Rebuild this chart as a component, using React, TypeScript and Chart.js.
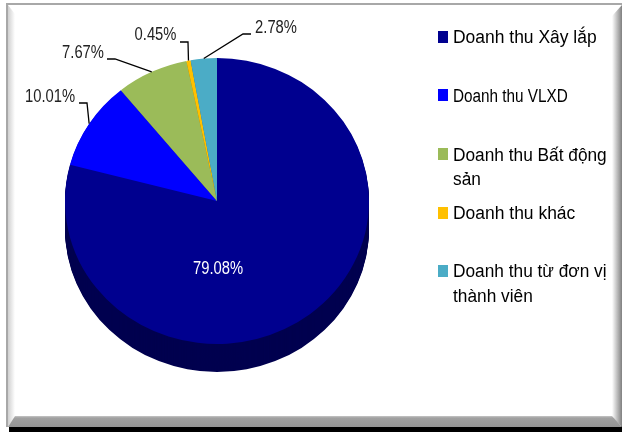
import React, { useEffect, useRef } from "react";
import { Chart, registerables } from "chart.js";

Chart.register(...registerables);

const categories = [
  "Doanh thu Xây lắp",
  "Doanh thu VLXD",
  "Doanh thu Bất động sản",
  "Doanh thu khác",
  "Doanh thu từ đơn vị thành viên",
];
const shares = [79.08, 10.01, 7.67, 0.45, 2.78];
const faceColors = ["#00008f", "#0000ff", "#9bbb59", "#ffc000", "#4bacc6"];
const sideColors = ["#00004f", "#00008f", "#5f7530", "#a07800", "#2a6c80"];
const shareLabels = ["79.08%", "10.01%", "7.67%", "0.45%", "2.78%"];

// Layout of the drawing (pixels), kept apart from the data.
const W = 622;
const H = 432;
const SQUASH = 143 / 152;
const DEPTH = 28;
const LABEL_NARROW = 0.82;
const labelSpots = [
  { x: 218, y: 269 },
  { x: 50, y: 97, lx: 79, ly: 103, kx: 87 },
  { x: 83, y: 53, lx: 107, ly: 59, kx: 115 },
  { x: 155.5, y: 35, lx: 180, ly: 42, kx: 188 },
  { x: 276, y: 28, lx: 251, ly: 34, kx: 243 },
];
const legendRows = [
  { swatch: 31, lines: [43], narrow: 0.97 },
  { swatch: 89, lines: [101.5], narrow: 0.85 },
  { swatch: 148, lines: [160.5, 185], narrow: 0.96 },
  { swatch: 207, lines: [218.5], narrow: 0.97 },
  { swatch: 265, lines: [277, 302], narrow: 0.96 },
];
const legendWrapWords = [0, 0, 4, 0, 5];

const framePlugin = {
  id: "frame",
  beforeDraw(chart: any) {
    const c = chart.ctx;
    c.save();
    c.fillStyle = "#fff";
    c.fillRect(0, 0, W, H);
    c.fillStyle = "#000";
    c.fillRect(9, 426, W - 9, 6);
    c.fillStyle = "#a8a8a8";
    c.fillRect(6, 3, W - 6, 2);
    c.fillRect(6, 3, 2, 424);
    let g = c.createLinearGradient(8, 0, 15, 0);
    g.addColorStop(0, "#d0d0d0");
    g.addColorStop(1, "#ffffff");
    c.fillStyle = g;
    c.beginPath();
    c.moveTo(8, 5);
    c.lineTo(15, 14);
    c.lineTo(15, 417);
    c.lineTo(8, 427);
    c.closePath();
    c.fill();
    g = c.createLinearGradient(612, 0, 622, 0);
    g.addColorStop(0, "#ffffff");
    g.addColorStop(1, "#808080");
    c.fillStyle = g;
    c.beginPath();
    c.moveTo(622, 5);
    c.lineTo(612, 16);
    c.lineTo(612, 417);
    c.lineTo(622, 427);
    c.closePath();
    c.fill();
    g = c.createLinearGradient(0, 415, 0, 427);
    g.addColorStop(0, "#d8d8d8");
    g.addColorStop(0.25, "#a0a0a0");
    g.addColorStop(1, "#949494");
    c.fillStyle = g;
    c.beginPath();
    c.moveTo(15, 416);
    c.lineTo(612, 416);
    c.lineTo(622, 427);
    c.lineTo(8, 427);
    c.closePath();
    c.fill();
    c.restore();
  },
};

const tiltPlugin = {
  id: "tilt",
  beforeDatasetsDraw(chart: any) {
    const c = chart.ctx;
    const arcs = chart.getDatasetMeta(0).data;
    const { x: cx, y: cy } = arcs[0];
    c.save();
    for (let d = DEPTH; d >= 1; d--) {
      arcs.forEach((a: any, i: number) => {
        const p = a.getProps(["startAngle", "endAngle", "outerRadius"], true);
        c.fillStyle = sideColors[i];
        c.beginPath();
        c.moveTo(cx, cy + d);
        c.ellipse(cx, cy + d, p.outerRadius, p.outerRadius * SQUASH, 0, p.startAngle, p.endAngle);
        c.closePath();
        c.fill();
      });
    }
    c.restore();
    c.save();
    c.translate(cx, cy);
    c.scale(1, SQUASH);
    c.translate(-cx, -cy);
  },
  afterDatasetsDraw(chart: any) {
    chart.ctx.restore();
  },
};

const labelPlugin = {
  id: "shareLabels",
  afterDraw(chart: any) {
    const c = chart.ctx;
    const arcs = chart.getDatasetMeta(0).data;
    c.save();
    c.font = '18px "Liberation Sans"';
    c.textAlign = "center";
    c.textBaseline = "middle";
    arcs.forEach((a: any, i: number) => {
      const spot: any = labelSpots[i];
      const p = a.getProps(["startAngle", "endAngle", "outerRadius"], true);
      if (spot.lx !== undefined) {
        const mid = (p.startAngle + p.endAngle) / 2;
        c.strokeStyle = "#000";
        c.lineWidth = 1.3;
        c.beginPath();
        c.moveTo(spot.lx, spot.ly);
        c.lineTo(spot.kx, spot.ly);
        c.lineTo(a.x + Math.cos(mid) * p.outerRadius, a.y + Math.sin(mid) * p.outerRadius * SQUASH);
        c.stroke();
      }
      c.fillStyle = i === 0 ? "#fff" : "#222";
      c.save();
      c.translate(spot.x, spot.y);
      c.scale(LABEL_NARROW, 1);
      c.fillText(shareLabels[i], 0, 0);
      c.restore();
    });
    c.restore();
  },
};

const legendPlugin = {
  id: "sideLegend",
  afterDraw(chart: any) {
    const c = chart.ctx;
    c.save();
    c.font = '18px "Liberation Sans"';
    c.textAlign = "left";
    c.textBaseline = "alphabetic";
    chart.data.labels.forEach((name: string, i: number) => {
      const row = legendRows[i];
      c.fillStyle = faceColors[i];
      c.fillRect(438, row.swatch, 10, 12);
      c.fillStyle = "#000";
      const words = name.split(" ");
      const parts = legendWrapWords[i]
        ? [words.slice(0, legendWrapWords[i]).join(" "), words.slice(legendWrapWords[i]).join(" ")]
        : [name];
      parts.forEach((t, k) => {
        c.save();
        c.translate(453, row.lines[k]);
        c.scale(row.narrow, 1);
        c.fillText(t, 0, 0);
        c.restore();
      });
    });
    c.restore();
  },
};

export default function App() {
  const ref = useRef<HTMLCanvasElement>(null);
  useEffect(() => {
    const chart = new Chart(ref.current!, {
      type: "pie",
      data: {
        labels: categories,
        datasets: [{ data: shares, backgroundColor: faceColors, borderWidth: 0 }],
      },
      options: {
        responsive: false,
        animation: false,
        devicePixelRatio: 1,
        layout: { padding: { left: 65, right: 253, top: 49, bottom: 79 } },
        plugins: { legend: { display: false }, tooltip: { enabled: false } },
      },
      plugins: [framePlugin, tiltPlugin, labelPlugin, legendPlugin],
    } as any);
    return () => chart.destroy();
  }, []);
  return (
    <div style={{ position: "fixed", left: 0, top: 0, width: W, height: H }}>
      <canvas ref={ref} width={W} height={H} style={{ display: "block" }} />
    </div>
  );
}
